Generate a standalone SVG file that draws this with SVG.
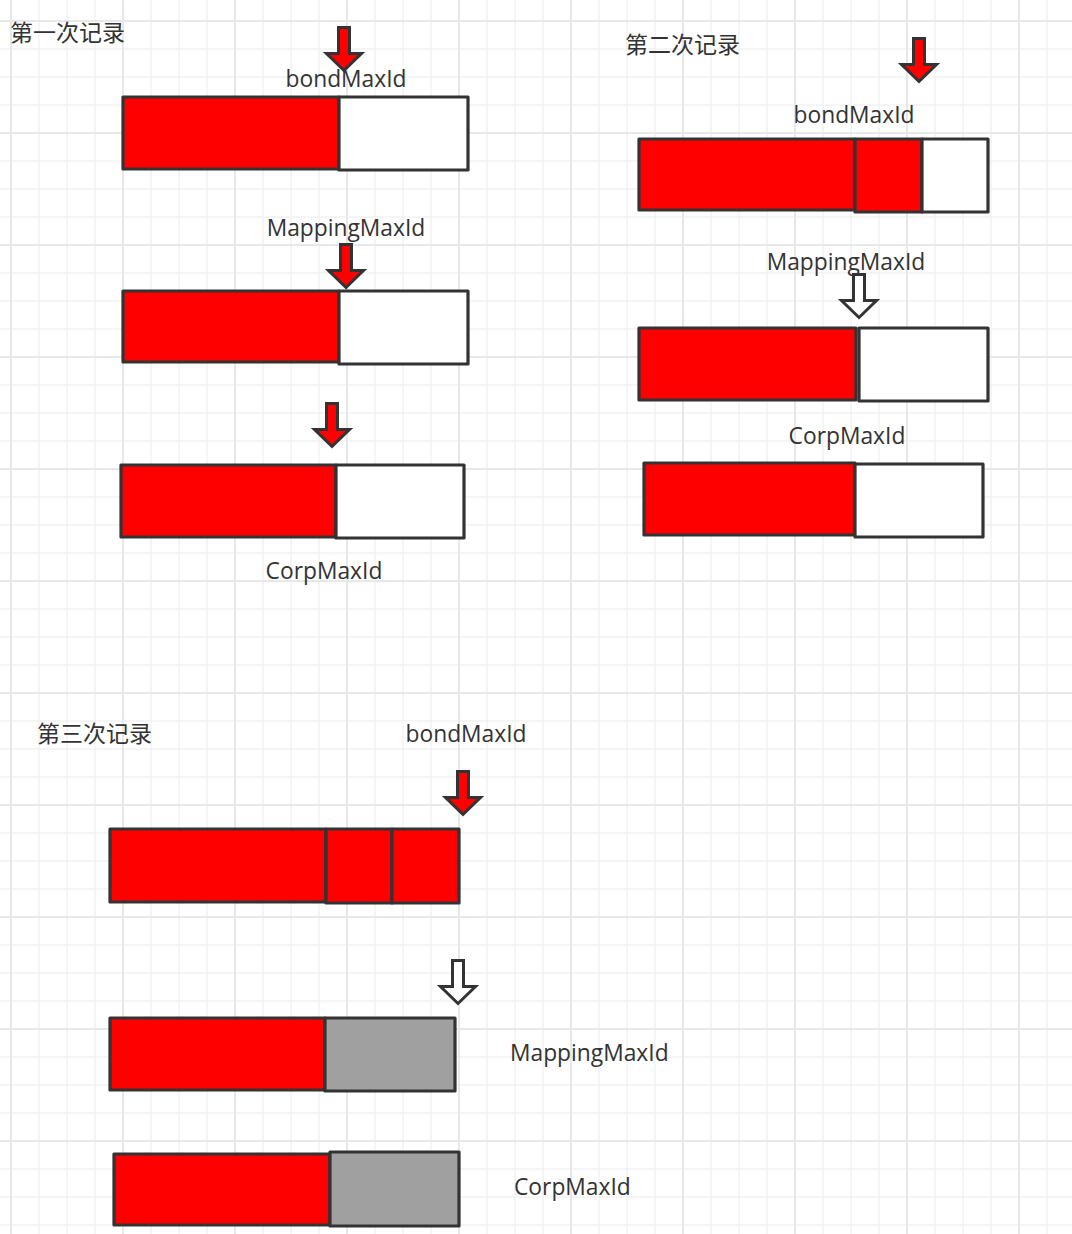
<svg xmlns="http://www.w3.org/2000/svg" width="1072" height="1234" viewBox="0 0 1072 1234">
<defs>
<pattern id="grid" x="10" y="20" width="112" height="112" patternUnits="userSpaceOnUse">
<rect x="0" y="0" width="112" height="112" fill="#ffffff"/>
<rect x="28.25" y="0" width="1.5" height="112" fill="#f2f2f2"/>
<rect x="56.25" y="0" width="1.5" height="112" fill="#f2f2f2"/>
<rect x="84.25" y="0" width="1.5" height="112" fill="#f2f2f2"/>
<rect x="0" y="28.25" width="112" height="1.5" fill="#f2f2f2"/>
<rect x="0" y="56.25" width="112" height="1.5" fill="#f2f2f2"/>
<rect x="0" y="84.25" width="112" height="1.5" fill="#f2f2f2"/>
<rect x="0" y="0" width="2" height="112" fill="#e8e8e8"/>
<rect x="0" y="0" width="112" height="2" fill="#e8e8e8"/>
</pattern>
<path id="arr" d="M-5.5,0 H5.5 V26 H17.5 L0,43 L-17.5,26 H-5.5 Z"/>
</defs>
<style>
.red{fill:#ff0000;stroke:#333333;stroke-width:3.2;stroke-linejoin:round}
.wht{fill:#ffffff;stroke:#333333;stroke-width:3.2;stroke-linejoin:round}
.gry{fill:#a0a0a0;stroke:#333333;stroke-width:3.2;stroke-linejoin:round}
.ar{fill:#ff0000;stroke:#333333;stroke-width:3;stroke-linejoin:miter}
.ah{fill:#ffffff;stroke:#333333;stroke-width:3;stroke-linejoin:miter}
.lbl{font-family:"Open Sans","Noto Sans","Liberation Sans",sans-serif;font-size:22.8px;fill:#333333}
.ttl{font-family:"Noto Sans CJK SC","Noto Sans",sans-serif;font-size:23px;fill:#333333}
.c{text-anchor:middle}
</style>
<rect x="0" y="0" width="1072" height="1234" fill="url(#grid)"/>

<g id="title1"><text class="ttl" x="10" y="41">第一次记录</text></g>
<g id="title2"><text class="ttl" x="625" y="53">第二次记录</text></g>
<g id="title3"><text class="ttl" x="37" y="742">第三次记录</text></g>

<!-- Block 1 -->
<g id="r1-bond">
<rect class="red" x="123" y="97" width="216" height="72"/>
<rect class="wht" x="339" y="97" width="129" height="73"/>
</g>
<g id="r1-bond-label"><text class="lbl c" x="346" y="87">bondMaxId</text></g>
<g id="r1-mapping">
<rect class="red" x="123" y="291" width="216" height="71"/>
<rect class="wht" x="339" y="291" width="129" height="73"/>
</g>
<g id="r1-mapping-label"><text class="lbl c" x="346" y="236">MappingMaxId</text></g>
<g id="r1-corp">
<rect class="red" x="121" y="465" width="215" height="72"/>
<rect class="wht" x="336" y="465" width="128" height="73"/>
</g>
<g id="r1-corp-label"><text class="lbl c" x="324" y="579">CorpMaxId</text></g>

<!-- Block 2 -->
<g id="r2-bond">
<rect class="red" x="639" y="139" width="216" height="71"/>
<rect class="red" x="855" y="139" width="67" height="73"/>
<rect class="wht" x="922" y="139" width="66" height="73"/>
</g>
<g id="r2-bond-label"><text class="lbl c" x="854" y="123">bondMaxId</text></g>
<g id="r2-mapping">
<rect class="red" x="639" y="328" width="217" height="72"/>
<rect class="wht" x="859" y="328" width="129" height="73"/>
</g>
<g id="r2-mapping-label"><text class="lbl c" x="846" y="270">MappingMaxId</text></g>
<g id="r2-corp">
<rect class="red" x="644" y="463" width="211" height="72"/>
<rect class="wht" x="855" y="464" width="128" height="73"/>
</g>
<g id="r2-corp-label"><text class="lbl c" x="847" y="444">CorpMaxId</text></g>

<!-- Block 3 -->
<g id="r3-bond">
<rect class="red" x="110" y="829" width="216" height="73"/>
<rect class="red" x="326" y="829" width="66" height="74"/>
<rect class="red" x="392" y="829" width="67" height="74"/>
</g>
<g id="r3-bond-label"><text class="lbl c" x="466" y="742">bondMaxId</text></g>
<g id="r3-mapping">
<rect class="red" x="110" y="1018" width="215" height="72"/>
<rect class="gry" x="325" y="1018" width="130" height="73"/>
</g>
<g id="r3-mapping-label"><text class="lbl" x="510" y="1061">MappingMaxId</text></g>
<g id="r3-corp">
<rect class="red" x="114" y="1154" width="216" height="71"/>
<rect class="gry" x="330" y="1152" width="129" height="74"/>
</g>
<g id="r3-corp-label"><text class="lbl" x="514" y="1195">CorpMaxId</text></g>

<!-- pointer arrows -->
<g id="connectors">
<use href="#arr" class="ar" transform="translate(344,27.5)"/>
<use href="#arr" class="ar" transform="translate(346,244.5)"/>
<use href="#arr" class="ar" transform="translate(332,403.5)"/>
<use href="#arr" class="ar" transform="translate(919,38.5)"/>
<use href="#arr" class="ah" transform="translate(859,274.5)"/>
<use href="#arr" class="ar" transform="translate(463,771.5)"/>
<use href="#arr" class="ah" transform="translate(458,960.5)"/>
</g>
</svg>
